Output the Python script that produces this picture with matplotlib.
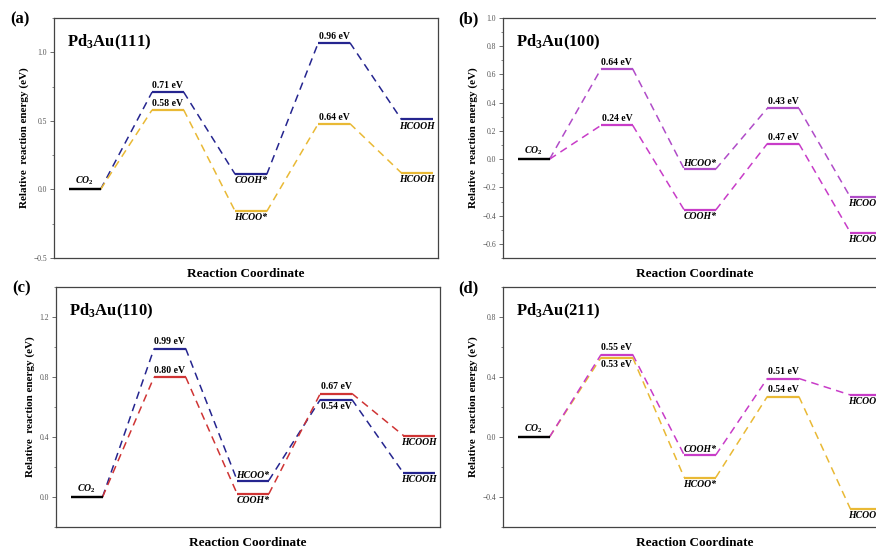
import matplotlib
matplotlib.use("Agg")
import matplotlib.pyplot as plt
from matplotlib.ticker import MultipleLocator


plt.rcParams["font.family"] = ["Liberation Serif", "DejaVu Serif"]
plt.rcParams["mathtext.fontset"] = "custom"
plt.rcParams["mathtext.rm"] = "Liberation Serif"
plt.rcParams["mathtext.it"] = "Liberation Serif:italic:bold"
plt.rcParams["mathtext.bf"] = "Liberation Serif:bold"


# ------------------------------------------------------
# Data (relative energies, eV) for the five states
# CO2 -> TS1 -> intermediate -> TS2 -> HCOOH
# ------------------------------------------------------

steps = [0, 1, 2, 3, 4]

a_blue = [0.0, 0.71, 0.11, 1.07, 0.51]
a_yellow = [0.0, 0.58, -0.16, 0.48, 0.12]
a_blue_barriers = ["0.71 eV", "0.96 eV"]
a_yellow_barriers = ["0.58 eV", "0.64 eV"]

b_upper = [0.0, 0.64, -0.07, 0.36, -0.27]
b_lower = [0.0, 0.24, -0.36, 0.11, -0.52]
b_upper_barriers = ["0.64 eV", "0.43 eV"]
b_lower_barriers = ["0.24 eV", "0.47 eV"]

c_blue = [0.0, 0.99, 0.11, 0.65, 0.16]
c_red = [0.0, 0.80, 0.02, 0.69, 0.41]
c_blue_barriers = ["0.99 eV", "0.54 eV"]
c_red_barriers = ["0.80 eV", "0.67 eV"]

d_magenta = [0.0, 0.55, -0.12, 0.39, 0.28]
d_yellow = [0.0, 0.53, -0.27, 0.27, -0.48]
d_magenta_barriers = ["0.55 eV", "0.51 eV"]
d_yellow_barriers = ["0.53 eV", "0.54 eV"]


BLUE = "#25258f"
YELLOW = "#e9b935"
RED = "#cf3434"
MAGENTA = "#c83cc8"
PURPLE = "#b04cc8"

LEVEL_W = 0.38


# ------------------------------------------------------
# Helpers
# ------------------------------------------------------

def draw_path(ax, energies, color):

    ax.plot([0, LEVEL_W], [energies[0], energies[0]],
            color="black", lw=1.6, solid_capstyle="butt", zorder=3)

    for i in range(1, len(energies)):
        ax.plot([steps[i], steps[i] + LEVEL_W], [energies[i], energies[i]],
                color=color, lw=1.6, solid_capstyle="butt", zorder=3)
        ax.plot([steps[i - 1] + LEVEL_W, steps[i]],
                [energies[i - 1], energies[i]],
                color=color, lw=1.1, dashes=(5, 3.5), zorder=2)


def label(ax, step, energy, text, above=True, italic=False, dy=1.5):

    ax.annotate(
        text,
        xy=(step + LEVEL_W / 2, energy),
        xytext=(0, dy if above else -dy),
        textcoords="offset points",
        ha="center",
        va="bottom" if above else "top",
        fontsize=7,
        fontweight="bold",
        fontstyle="italic" if italic else "normal",
        zorder=4
    )


def setup_axes(ax, ylim, major, minor, title, letter):

    ax.set_xlim(-0.18, 4.44)
    ax.set_ylim(*ylim)
    ax.set_xticks([])
    ax.yaxis.set_major_locator(MultipleLocator(major))
    ax.yaxis.set_minor_locator(MultipleLocator(minor))
    ax.tick_params(axis="y", which="major", length=3, width=0.6,
                   labelsize=5.5, labelcolor="#555555", color="#555555", pad=2)
    ax.tick_params(axis="y", which="minor", length=1.8, width=0.5,
                   color="#555555")

    for spine in ax.spines.values():
        spine.set_color("#444444")
        spine.set_linewidth(0.9)

    ax.set_ylabel("Relative  reaction energy (eV)", fontsize=8,
                  fontweight="bold", labelpad=3)
    ax.set_xlabel("Reaction Coordinate", fontsize=9.5,
                  fontweight="bold", labelpad=7)

    ax.text(0.035, 0.94, title, transform=ax.transAxes,
            fontsize=12, fontweight="bold", va="top", ha="left")

    ax.text(-0.09, 0.995, letter, transform=ax.transAxes,
            fontsize=12, fontweight="bold", va="center", ha="center")


# ------------------------------------------------------
# Figure
# ------------------------------------------------------

fig = plt.figure(figsize=(8.76, 5.47), dpi=100)

W = 384 / 876
H = 240 / 547

ax_a = fig.add_axes([54 / 876, 1 - 258 / 547, W, H])
ax_b = fig.add_axes([503 / 876, 1 - 258 / 547, W, H])
ax_c = fig.add_axes([56 / 876, 1 - 527 / 547, W, H])
ax_d = fig.add_axes([503 / 876, 1 - 527 / 547, W, H])

CO2 = r"CO$_\mathbf{2}$"
HCOOH = "HCOOH"

# (a) Pd3Au(111)
setup_axes(ax_a, (-0.5, 1.25), 0.5, 0.25, r"Pd$_\mathbf{3}$Au(111)", "(a)")
draw_path(ax_a, a_blue, BLUE)
draw_path(ax_a, a_yellow, YELLOW)
label(ax_a, 0, 0.0, CO2, italic=True)
label(ax_a, 1, a_blue[1], a_blue_barriers[0])
label(ax_a, 1, a_yellow[1], a_yellow_barriers[0])
label(ax_a, 3, a_blue[3], a_blue_barriers[1])
label(ax_a, 3, a_yellow[3], a_yellow_barriers[1])
label(ax_a, 2, a_blue[2], "COOH*", above=False, italic=True)
label(ax_a, 2, a_yellow[2], "HCOO*", above=False, italic=True)
label(ax_a, 4, a_blue[4], HCOOH, above=False, italic=True)
label(ax_a, 4, a_yellow[4], HCOOH, above=False, italic=True)

# (b) Pd3Au(100)
setup_axes(ax_b, (-0.7, 1.0), 0.2, 0.1, r"Pd$_\mathbf{3}$Au(100)", "(b)")
draw_path(ax_b, b_upper, PURPLE)
draw_path(ax_b, b_lower, MAGENTA)
label(ax_b, 0, 0.0, CO2, italic=True)
label(ax_b, 1, b_upper[1], b_upper_barriers[0])
label(ax_b, 1, b_lower[1], b_lower_barriers[0])
label(ax_b, 3, b_upper[3], b_upper_barriers[1])
label(ax_b, 3, b_lower[3], b_lower_barriers[1])
label(ax_b, 2, b_upper[2], "HCOO*", italic=True, dy=0.5)
label(ax_b, 2, b_lower[2], "COOH*", above=False, italic=True)
label(ax_b, 4, b_upper[4], HCOOH, above=False, italic=True)
label(ax_b, 4, b_lower[4], HCOOH, above=False, italic=True)

# (c) Pd3Au(110)
setup_axes(ax_c, (-0.2, 1.4), 0.4, 0.2, r"Pd$_\mathbf{3}$Au(110)", "(c)")
draw_path(ax_c, c_blue, BLUE)
draw_path(ax_c, c_red, RED)
label(ax_c, 0, 0.0, CO2, italic=True)
label(ax_c, 1, c_blue[1], c_blue_barriers[0])
label(ax_c, 1, c_red[1], c_red_barriers[0])
label(ax_c, 3, c_blue[3], c_blue_barriers[1], above=False)
label(ax_c, 3, c_red[3], c_red_barriers[1])
label(ax_c, 2, c_blue[2], "HCOO*", italic=True, dy=0.5)
label(ax_c, 2, c_red[2], "COOH*", above=False, italic=True)
label(ax_c, 4, c_red[4], HCOOH, above=False, italic=True)
label(ax_c, 4, c_blue[4], HCOOH, above=False, italic=True)

# (d) Pd3Au(211)
setup_axes(ax_d, (-0.6, 1.0), 0.4, 0.2, r"Pd$_\mathbf{3}$Au(211)", "(d)")
draw_path(ax_d, d_yellow, YELLOW)
draw_path(ax_d, d_magenta, MAGENTA)
label(ax_d, 0, 0.0, CO2, italic=True)
label(ax_d, 1, d_magenta[1], d_magenta_barriers[0])
label(ax_d, 1, d_yellow[1], d_yellow_barriers[0], above=False)
label(ax_d, 3, d_magenta[3], d_magenta_barriers[1])
label(ax_d, 3, d_yellow[3], d_yellow_barriers[1])
label(ax_d, 2, d_magenta[2], "COOH*", italic=True, dy=0.5)
label(ax_d, 2, d_yellow[2], "HCOO*", above=False, italic=True)
label(ax_d, 4, d_magenta[4], HCOOH, above=False, italic=True)
label(ax_d, 4, d_yellow[4], HCOOH, above=False, italic=True)

fig.savefig("out.png", dpi=100)
